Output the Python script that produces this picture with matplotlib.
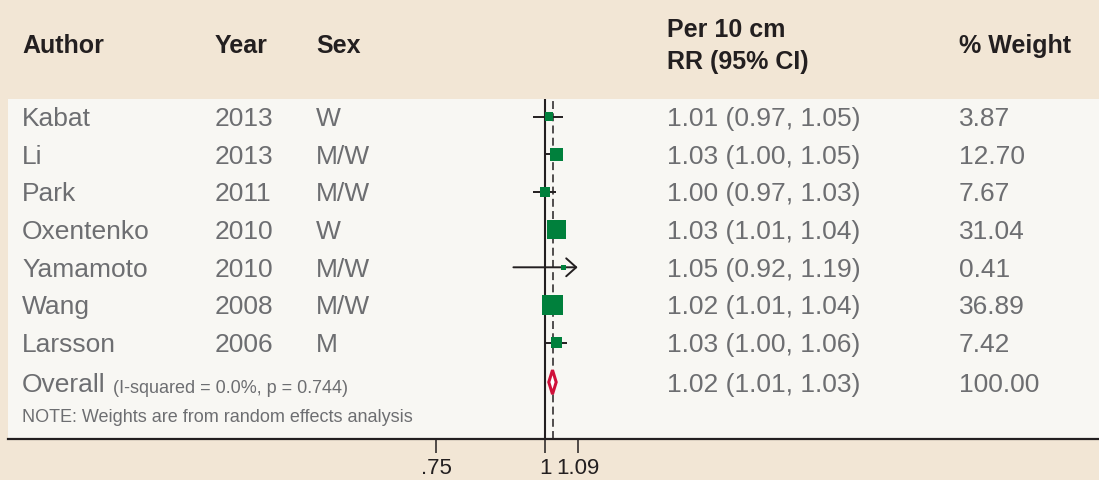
import numpy as np
import matplotlib
matplotlib.use("Agg")
import matplotlib.pyplot as plt
from matplotlib.transforms import blended_transform_factory
from matplotlib.patches import Polygon

# ---------------- data ----------------
authors = ["Kabat", "Li", "Park", "Oxentenko", "Yamamoto", "Wang", "Larsson"]
years = ["2013", "2013", "2011", "2010", "2010", "2008", "2006"]
sexes = ["W", "M/W", "M/W", "W", "M/W", "M/W", "M"]
rr = [1.01, 1.03, 1.00, 1.03, 1.05, 1.02, 1.03]
lo = [0.97, 1.00, 0.97, 1.01, 0.92, 1.01, 1.00]
hi = [1.05, 1.05, 1.03, 1.04, 1.19, 1.04, 1.06]
weights = [3.87, 12.70, 7.67, 31.04, 0.41, 36.89, 7.42]
overall_rr, overall_lo, overall_hi = 1.02, 1.01, 1.03
overall_weight = 100.00
overall_label = "Overall"
overall_stats = "(I-squared = 0.0%, p = 0.744)"
note = "NOTE: Weights are from random effects analysis"
xticks = [0.75, 1.0, 1.09]
xticklabels = [".75", "1", "1.09"]
headers = ["Author", "Year", "Sex", "Per 10 cm\nRR (95% CI)", "% Weight"]

# ---------------- style ----------------
BG = "#f2e6d5"
PANEL = "#f8f7f3"
DARK = "#231f20"
GRAY = "#6d6e71"
GREEN = "#00803c"
RED = "#d0103a"
FONT = "Liberation Sans"
BODY = 19
SMALL = 13

W, H = 1099, 480
fig = plt.figure(figsize=(W / 100, H / 100), dpi=100, facecolor=BG)

# axes spans the light panel: x 8..1099 px, y 99..439 px
ax_left, ax_top, ax_bottom = 8, 99, 439
ax = fig.add_axes([ax_left / W, 1 - ax_bottom / H, (W - ax_left) / W, (ax_bottom - ax_top) / H])
ax.set_facecolor(PANEL)

# log x scale: x=1 at pixel 545, 379 px per natural-log unit
px_one, px_per = 545, 379.0
ax.set_xscale("log")
ax.set_xlim(np.exp((ax_left - px_one) / px_per), np.exp((W - px_one) / px_per))

row0, row_h = 116.7, 37.65
ax.set_ylim((ax_bottom - row0) / row_h, (ax_top - row0) / row_h)

for s in ["top", "left", "right"]:
    ax.spines[s].set_visible(False)
ax.spines["bottom"].set_color(DARK)
ax.spines["bottom"].set_linewidth(1.6)
ax.set_yticks([])
ax.set_xticks(xticks)
ax.set_xticklabels(xticklabels)
ax.xaxis.set_minor_locator(matplotlib.ticker.NullLocator())
ax.tick_params(axis="x", direction="out", length=10, width=1.1, color=DARK,
               pad=3.5, labelsize=16, labelcolor=DARK)
for lab in ax.get_xticklabels():
    lab.set_fontfamily(FONT)

n = len(authors)
ys = np.arange(n)
y_over = n + 0.05
y_note = n + 1.12

# reference lines
ax.axvline(1.0, color=DARK, lw=1.5, zorder=2)
ax.axvline(overall_rr, color=DARK, lw=1.1, dashes=(5.2, 2.8), zorder=2)

# CIs
clip_hi = max(xticks)
clip_lo = min(xticks)
for y, l, h in zip(ys, lo, hi):
    if h > clip_hi:
        ax.annotate("", xy=(clip_hi, y), xytext=(max(l, clip_lo), y),
                    arrowprops=dict(arrowstyle="->,head_length=0.48,head_width=0.43",
                                    lw=1.4, color=DARK, mutation_scale=15,
                                    shrinkA=0, shrinkB=0), zorder=3)
    else:
        ax.plot([max(l, clip_lo), h], [y, y], color=DARK, lw=1.4, zorder=3,
                solid_capstyle="butt")

# weight boxes (area proportional to weight)
side_px = 3.0 * np.sqrt(np.array(weights)) + 2.5
side_pt = side_px * 72 / 100
ax.scatter(rr, ys, s=side_pt ** 2, marker="s", color=GREEN, edgecolors="none", zorder=4)

# overall diamond
dh = 0.32
diamond = Polygon([(overall_lo, y_over), (overall_rr, y_over - dh),
                   (overall_hi, y_over), (overall_rr, y_over + dh)],
                  closed=True, facecolor="white", edgecolor=RED, lw=2.2, zorder=5)
ax.add_patch(diamond)

# ---------------- text columns ----------------
tr = blended_transform_factory(fig.transFigure, ax.transData)
col_x = [22, 215, 316, 667, 959]
base_off = 0.25
for i in range(n):
    vals = [authors[i], years[i], sexes[i],
            f"{rr[i]:.2f} ({lo[i]:.2f}, {hi[i]:.2f})", f"{weights[i]:.2f}"]
    for cx, v in zip(col_x, vals):
        ax.text(cx / W, ys[i] + base_off, v, transform=tr, fontsize=BODY,
                color=GRAY, fontfamily=FONT, va="baseline", ha="left")

t_over = ax.text(col_x[0] / W, y_over + base_off, overall_label, transform=tr,
                 fontsize=BODY, color=GRAY, fontfamily=FONT, va="baseline", ha="left")
ax.annotate(overall_stats, xy=(1, 0), xycoords=t_over, xytext=(5, 0),
            textcoords="offset points", fontsize=SMALL, color=GRAY,
            fontfamily=FONT, va="bottom", ha="left")
ax.text(col_x[3] / W, y_over + base_off,
        f"{overall_rr:.2f} ({overall_lo:.2f}, {overall_hi:.2f})", transform=tr,
        fontsize=BODY, color=GRAY, fontfamily=FONT, va="baseline", ha="left")
ax.text(col_x[4] / W, y_over + base_off, f"{overall_weight:.2f}", transform=tr,
        fontsize=BODY, color=GRAY, fontfamily=FONT, va="baseline", ha="left")
ax.text(col_x[0] / W, y_note, note, transform=tr, fontsize=SMALL, color=GRAY,
        fontfamily=FONT, va="baseline", ha="left")

# ---------------- headers ----------------
hdr_base = 53.3
for cx, h in zip(col_x, headers):
    if "\n" in h:
        l1, l2 = h.split("\n")
        fig.text(cx / W, 1 - 37 / H, l1, fontsize=18, fontweight="bold",
                 color=DARK, fontfamily=FONT, va="baseline", ha="left")
        fig.text(cx / W, 1 - 68.5 / H, l2, fontsize=18, fontweight="bold",
                 color=DARK, fontfamily=FONT, va="baseline", ha="left")
    else:
        fig.text(cx / W, 1 - hdr_base / H, h, fontsize=18, fontweight="bold",
                 color=DARK, fontfamily=FONT, va="baseline", ha="left")

fig.savefig("out.png", dpi=100, facecolor=BG)
